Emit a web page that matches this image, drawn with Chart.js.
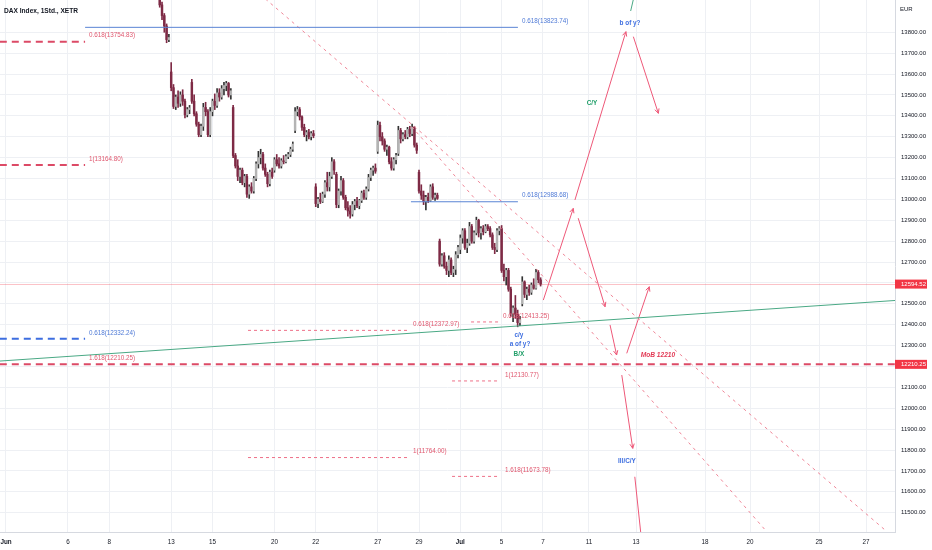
<!DOCTYPE html>
<html><head><meta charset="utf-8">
<script src="https://cdn.jsdelivr.net/npm/chart.js@4/dist/chart.umd.min.js"></script>
<style>html,body{margin:0;padding:0;background:#fff;overflow:hidden}</style>
</head><body>
<canvas id="c" width="932" height="550" style="width:932px;height:550px;display:block"></canvas>
<script>
// ---------- DATA ----------
const chartTitle = 'DAX Index, 1Std., XETR';
const currency = 'EUR';
// trading-day index (Jun 1 = 0) of each session, 9 hourly bars each
const sessionDays = [7,8,9,10,11,12,13,14,15,16,17,18,19,20,21,22,23,24,25];
const barsPerSession = 9;
const barOpen = [
 14190,14140,14080,14030,13985,13931,13880,13830,13765,
 13610,13535,13445,13490,13460,13500,13470,13405,13430,
 13560,13470,13410,13360,13310,13350,13440,13420,13310,
 13420,13470,13450,13510,13490,13530,13545,13555,13500,
 13440,13210,13160,13110,13140,13080,13110,13025,13060,
 13040,13100,13170,13200,13215,13150,13120,13075,13130,
 13140,13190,13170,13160,13185,13180,13205,13215,13240,
 13330,13420,13430,13395,13345,13310,13320,13300,13315,
 13060,12980,13000,12990,13025,13080,13060,13110,13180,
 13120,12975,13040,13090,13010,12960,12945,12930,12975,
 12990,12970,12995,13030,13010,13050,13105,13140,13150,
 13230,13355,13300,13280,13240,13250,13180,13150,13190,
 13220,13330,13290,13310,13300,13335,13315,13345,13260,
 13130,13040,13020,12990,13010,12995,13060,13010,13020,
 12800,12690,12730,12680,12660,12710,12650,12665,12735,
 12760,12815,12850,12770,12790,12870,12800,12840,12900,
 12840,12860,12845,12870,12860,12830,12770,12760,12850,
 12860,12660,12630,12660,12570,12455,12480,12450,12410,
 12500,12605,12545,12570,12555,12590,12575,12650,12615
];
const barHigh = [
 14200,14160,14100,14050,14000,13945,13890,13840,13790,
 13655,13550,13500,13520,13515,13525,13480,13440,13450,
 13575,13500,13420,13370,13360,13460,13465,13430,13440,
 13480,13505,13530,13530,13545,13560,13565,13560,13530,
 13450,13220,13190,13150,13150,13120,13120,13070,13080,
 13110,13180,13230,13240,13225,13170,13130,13140,13150,
 13200,13215,13200,13195,13210,13215,13225,13250,13275,
 13440,13445,13440,13400,13360,13330,13335,13325,13330,
 13075,13010,13030,13035,13090,13130,13130,13200,13190,
 13130,13050,13110,13100,13020,12990,12970,12990,13000,
 13010,13000,13040,13045,13060,13120,13150,13160,13170,
 13375,13370,13320,13290,13260,13255,13200,13200,13220,
 13350,13340,13320,13330,13345,13350,13360,13350,13270,
 13140,13070,13040,13020,13030,13070,13075,13030,13030,
 12810,12740,12745,12700,12730,12720,12680,12750,12780,
 12830,12860,12860,12810,12890,12880,12850,12915,12905,
 12870,12875,12880,12880,12870,12840,12790,12860,12870,
 12875,12690,12670,12670,12580,12490,12540,12470,12440,
 12630,12610,12580,12590,12600,12620,12665,12660,12625
];
const barLow = [
 14120,14060,14000,13960,13920,13860,13800,13750,13755,
 13520,13435,13430,13440,13445,13450,13390,13395,13410,
 13460,13400,13350,13300,13300,13330,13400,13300,13300,
 13400,13430,13440,13470,13480,13500,13520,13490,13480,
 13200,13150,13090,13080,13070,13060,13010,13005,13030,
 13030,13090,13150,13170,13140,13110,13060,13065,13100,
 13130,13160,13150,13150,13170,13175,13195,13205,13230,
 13320,13400,13380,13330,13300,13280,13290,13285,13295,
 12965,12960,12980,12985,13010,13040,13040,13100,13120,
 12960,12960,13020,13000,12950,12920,12910,12920,12950,
 12960,12955,12985,13000,13000,13040,13090,13115,13125,
 13220,13280,13260,13230,13210,13170,13140,13140,13170,
 13210,13270,13280,13290,13290,13300,13305,13250,13220,
 13030,13000,12975,12950,12985,12990,13000,12995,13000,
 12680,12680,12670,12640,12630,12640,12630,12640,12720,
 12740,12790,12760,12745,12780,12790,12790,12830,12820,
 12810,12830,12840,12850,12820,12760,12740,12750,12830,
 12650,12610,12590,12560,12440,12415,12430,12390,12395,
 12490,12530,12520,12540,12545,12570,12570,12600,12585
];
const barClose = [
 14140,14080,14030,13985,13931,13880,13830,13765,13775,
 13535,13445,13490,13460,13500,13470,13405,13430,13438,
 13470,13410,13360,13310,13350,13440,13420,13310,13420,
 13470,13450,13510,13490,13530,13545,13555,13500,13520,
 13210,13160,13110,13140,13080,13110,13025,13060,13040,
 13100,13170,13200,13215,13150,13120,13075,13130,13110,
 13190,13170,13160,13185,13180,13205,13215,13240,13265,
 13420,13430,13395,13345,13310,13320,13300,13315,13305,
 12980,13000,12990,13025,13080,13060,13110,13180,13140,
 12975,13040,13090,13010,12960,12945,12930,12975,12990,
 12970,12995,13030,13010,13050,13105,13140,13150,13135,
 13355,13300,13280,13240,13250,13180,13150,13190,13210,
 13330,13290,13310,13300,13335,13315,13345,13260,13235,
 13040,13020,12990,13010,12995,13060,13010,13020,13005,
 12690,12730,12680,12660,12710,12650,12665,12735,12770,
 12815,12850,12770,12790,12870,12800,12840,12900,12840,
 12860,12845,12870,12860,12830,12770,12760,12850,12860,
 12660,12630,12660,12570,12455,12480,12450,12410,12425,
 12605,12545,12570,12555,12590,12575,12650,12615,12594.52
];
const lastPrice = 12594.52;

// axis ticks
const xTickPos = [0,3,5,8,10,13,15,18,20,22,24,26,28.23,30.51,33.85,36.03,39.37,41.65];
const xTickLabels = ['Jun','6','8','13','15','20','22','27','29','Jul','5','7','11','13','18','20','25','27'];
const yTickValues = [13800,13700,13600,13500,13400,13300,13200,13100,13000,12900,12800,12700,12600,12500,12400,12300,12200,12100,12000,11900,11800,11700,11600,11500];
const xRange = [-0.29, 43.05];
const yRange = [11407.6, 13954.6];

// Fibonacci levels (value, label, x-extent in trading-day units)
const levelValues = [13823.74, 13754.83, 13164.80, 12988.68, 12332.24, 12210.25, 12413.25, 12372.97, 12130.77, 11764.00, 11673.78];
const levelText = ['0.618(13823.74)','0.618(13754.83)','1(13164.80)','0.618(12988.68)','0.618(12332.24)','1.618(12210.25)','0.618(12413.25)','0.618(12372.97)','1(12130.77)','1(11764.00)','1.618(11673.78)'];
const levelFrom = [3.83, -0.3, -0.3, 19.61, -0.3, -0.3, 22.52, 11.72, 21.6, 11.72, 21.6];
const levelTo   = [24.79, 3.83, 3.83, 24.79, 3.83, 43.2, 23.92, 19.47, 23.92, 19.47, 23.92];
const levelLabelAt = [24.99, 4.02, 4.02, 24.99, 4.02, 4.02, 24.07, 19.71, 24.16, 19.71, 24.16];
const levelKind = ['blueSolid','redThick','redThick','blueSolid','blueThick','redThick','redThin','redThin','redThin','redThin','redThin'];

// trend lines [x1,y1,x2,y2]
const trendFromX = [-0.3, 30.25, 12.3, 19.65];
const trendFromY = [12226, 13902, 13982, 13348];
const trendToX   = [43.2, 30.41, 42.57, 37.0];
const trendToY   = [12517, 13970, 11417, 11391];
const trendKind  = ['green','green','pinkDash','pinkDash'];

// projected path arrows
const arrowFromX = [26.02, 27.71, 27.55, 30.38, 29.25, 30.06, 29.82, 30.45];
const arrowFromY = [12518, 12910, 12997, 13779, 12399, 12263, 12159, 11672];
const arrowToX   = [27.47, 29.01, 30.02, 31.59, 29.57, 31.15, 30.35, 30.75];
const arrowToY   = [12957, 12486, 13803, 13412, 12255, 12582, 11808, 11393];
const arrowHead  = [true, true, true, true, true, true, true, false];

// wave notes
const noteText = ['b of y?','C/Y','c/y','a of y?','B/X','MoB 12210','III/C/Y'];
const noteX = [30.22, 28.38, 24.84, 24.89, 24.84, 31.57, 30.07];
const noteY = [13844, 13461, 12351, 12308, 12260, 12255, 11747];
const noteKind = ['blue','green','blue','blue','green','mob','blue'];

// ---------- STYLES ----------
const FONT = '"Liberation Sans", Arial, sans-serif';
const lineStyles = {
  blueSolid:{c:'#5a84d4', w:1, dash:[]},
  blueThick:{c:'#3d6ee0', w:2, dash:[7,5]},
  redThick:{c:'#dc4a66', w:2, dash:[7,5]},
  redThin:{c:'#ee7088', w:1, dash:[3,3]},
  green:{c:'#4aa985', w:1, dash:[]},
  pinkDash:{c:'#ef8798', w:1, dash:[3,4]}
};
const labelColors = {blueSolid:'#4f7ad6', blueThick:'#4f7ad6', redThick:'#e0586f', redThin:'#e0586f'};
const noteStyles = {
  blue:{c:'#3f6fe0', f:'bold 6.4px '+FONT},
  green:{c:'#1f9e68', f:'bold 6.4px '+FONT},
  mob:{c:'#e23a55', f:'italic bold 6.6px '+FONT}
};
const arrowColor = '#ee5878';
const upBody = '#b4b4b4', downBody = '#7e2a45', upWick = '#333333', downWick = '#7e2a45';

// ---------- BUILD ----------
const wickData = [], bodyData = [], isUp = [];
sessionDays.forEach((d, i) => {
  for (let k = 0; k < barsPerSession; k++) {
    const j = i * barsPerSession + k;
    const x = d + k / barsPerSession;
    wickData.push({x, y:[barLow[j], barHigh[j]]});
    bodyData.push({x, y:[barOpen[j], barClose[j]]});
    isUp.push(barClose[j] >= barOpen[j]);
  }
});

const datasets = [];
levelValues.forEach((v, i) => {
  const s = lineStyles[levelKind[i]];
  datasets.push({type:'line', data:[{x:levelFrom[i], y:v},{x:levelTo[i], y:v}], borderColor:s.c, borderWidth:s.w, borderDash:s.dash, pointRadius:0, fill:false, order:0});
});
trendFromX.forEach((_, i) => {
  const s = lineStyles[trendKind[i]];
  datasets.push({type:'line', data:[{x:trendFromX[i], y:trendFromY[i]},{x:trendToX[i], y:trendToY[i]}], borderColor:s.c, borderWidth:s.w, borderDash:s.dash, pointRadius:0, fill:false, order:0});
});
arrowFromX.forEach((_, i) => {
  datasets.push({type:'line', data:[{x:arrowFromX[i], y:arrowFromY[i]},{x:arrowToX[i], y:arrowToY[i]}], borderColor:arrowColor, borderWidth:1, pointRadius:0, fill:false, order:0});
});
datasets.push({type:'bar', data:wickData, barThickness:1, grouped:false, backgroundColor:(c)=>isUp[c.dataIndex]?upWick:downWick, order:2});
datasets.push({type:'bar', data:bodyData, barThickness:1.8, grouped:false, minBarLength:1, backgroundColor:(c)=>isUp[c.dataIndex]?upBody:downBody, order:1});

const annot = {
  id:'annot',
  beforeDatasetsDraw(chart){
    const {ctx, chartArea:a, scales:{y}} = chart;
    const py = Math.round(y.getPixelForValue(lastPrice)) + 0.5;
    ctx.save();
    ctx.strokeStyle = 'rgba(242,54,69,0.3)'; ctx.lineWidth = 1;
    ctx.beginPath(); ctx.moveTo(a.left, py); ctx.lineTo(a.right, py); ctx.stroke();
    ctx.restore();
  },
  afterDatasetsDraw(chart){
    const {ctx, chartArea:a, scales:{x, y}} = chart;
    ctx.save();
    ctx.beginPath(); ctx.rect(a.left, a.top, a.right-a.left, a.bottom-a.top); ctx.clip();
    ctx.strokeStyle = arrowColor; ctx.lineWidth = 1;
    arrowFromX.forEach((_, i) => {
      if (!arrowHead[i]) return;
      const x1 = x.getPixelForValue(arrowFromX[i]), y1 = y.getPixelForValue(arrowFromY[i]);
      const x2 = x.getPixelForValue(arrowToX[i]), y2 = y.getPixelForValue(arrowToY[i]);
      const ang = Math.atan2(y2-y1, x2-x1), L = 5, sp = 0.45;
      ctx.beginPath();
      ctx.moveTo(x2 - L*Math.cos(ang-sp), y2 - L*Math.sin(ang-sp));
      ctx.lineTo(x2, y2);
      ctx.lineTo(x2 - L*Math.cos(ang+sp), y2 - L*Math.sin(ang+sp));
      ctx.stroke();
    });
    ctx.font = '6.3px ' + FONT; ctx.textAlign = 'left'; ctx.textBaseline = 'middle';
    levelValues.forEach((v, i) => {
      ctx.fillStyle = labelColors[levelKind[i]];
      ctx.fillText(levelText[i], x.getPixelForValue(levelLabelAt[i]), y.getPixelForValue(v) - 6);
    });
    ctx.textAlign = 'center';
    noteText.forEach((t, i) => {
      const s = noteStyles[noteKind[i]];
      ctx.font = s.f; ctx.fillStyle = s.c;
      ctx.fillText(t, x.getPixelForValue(noteX[i]), y.getPixelForValue(noteY[i]));
    });
    ctx.restore();
  },
  afterDraw(chart){
    const {ctx, chartArea:a, scales:{y}} = chart;
    ctx.save();
    ctx.fillStyle = '#131722'; ctx.font = 'bold 6.6px ' + FONT; ctx.textAlign = 'left'; ctx.textBaseline = 'middle';
    ctx.fillText(chartTitle, 4, 11);
    ctx.font = '6px ' + FONT; ctx.fillStyle = '#131722';
    ctx.fillText(currency, a.right + 5, 9);
    [lastPrice, levelValues[5]].forEach(v => {
      const py = y.getPixelForValue(v);
      ctx.fillStyle = '#f23645';
      ctx.fillRect(a.right, py - 4.5, 32, 9);
      ctx.fillStyle = '#ffffff'; ctx.font = '6px ' + FONT;
      ctx.fillText(v.toFixed(2), a.right + 6, py + 0.3);
    });
    ctx.restore();
  }
};

const noPad = (s) => { s.paddingLeft = 0; s.paddingRight = 0; s.paddingTop = 0; s.paddingBottom = 0; };

new Chart(document.getElementById('c'), {
  data:{datasets},
  options:{
    responsive:false, animation:false, devicePixelRatio:1,
    layout:{padding:0},
    plugins:{legend:{display:false}, tooltip:{enabled:false}},
    scales:{
      x:{type:'linear', position:'bottom', min:xRange[0], max:xRange[1], offset:false,
        afterBuildTicks:(s)=>{ s.ticks = xTickPos.map(v=>({value:v})); },
        afterFit:(s)=>{ s.height = 18; noPad(s); },
        grid:{color:'#eef0f4', drawTicks:false, offset:false},
        border:{color:'#d6d9e0'},
        ticks:{autoSkip:false, maxRotation:0, padding:6, color:'#131722',
          callback:(v, i)=>xTickLabels[i],
          font:(c)=>({family:FONT, size:6.3, weight:(c.tick && /^J/.test(xTickLabels[c.index])) ? 'bold' : 'normal'})}
      },
      y:{type:'linear', position:'right', min:yRange[0], max:yRange[1],
        afterBuildTicks:(s)=>{ s.ticks = yTickValues.map(v=>({value:v})); },
        afterFit:(s)=>{ s.width = 37; noPad(s); },
        grid:{color:'#eef0f4', drawTicks:false},
        border:{color:'#d6d9e0'},
        ticks:{autoSkip:false, padding:6, color:'#131722', font:{family:FONT, size:6}, callback:(v)=>Number(v).toFixed(2)}
      }
    }
  },
  plugins:[annot]
});
</script>
</body></html>
